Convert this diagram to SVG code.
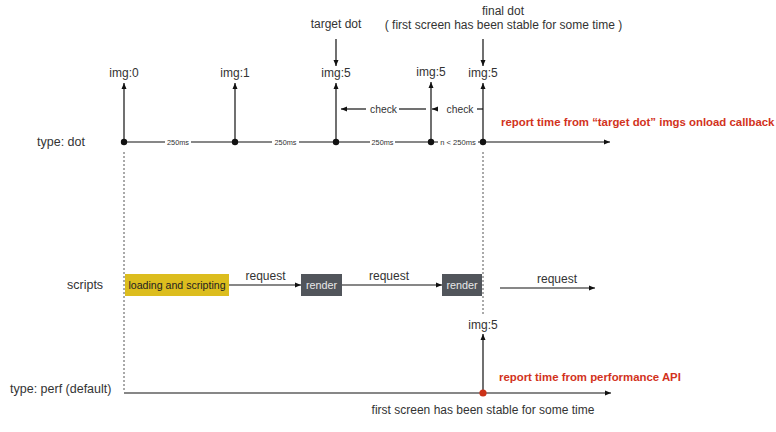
<svg xmlns="http://www.w3.org/2000/svg" width="776" height="432" viewBox="0 0 776 432">
<defs>
<marker id="ah" viewBox="0 0 6 6" refX="6" refY="3" markerWidth="6" markerHeight="6" markerUnits="userSpaceOnUse" orient="auto">
<path d="M0,0.5 L6,3 L0,5.5 Z" fill="#111"/>
</marker>
</defs>
<style>
text{font-family:"Liberation Sans",Arial,Helvetica,sans-serif;fill:#333;}
.l{font-size:12px;}
.c{text-anchor:middle;}
.s{font-size:7.3px;}
.ck{font-size:10.3px;}
.red{font-size:11.4px;font-weight:bold;fill:#d2321c;}
.ln{stroke:#111;stroke-width:1.2;fill:none;}
.ar{stroke:#111;stroke-width:1.2;fill:none;marker-end:url(#ah);}
.dash{stroke:#555;stroke-width:1;stroke-dasharray:2,2;fill:none;}
.dot{fill:#111;}
</style>
<rect width="776" height="432" fill="#fff"/>

<g id="row-labels">
<text class="l" x="37" y="146" style="font-size:12.5px">type: dot</text>
<text class="l" x="67" y="289" style="font-size:12.5px">scripts</text>
<text class="l" x="10" y="393" style="font-size:12.5px">type: perf (default)</text>
</g>

<g id="connectors">
<!-- dot timeline -->
<path class="ln" d="M124,142 H165 M191,142 H272 M299,142 H370 M395,142 H438"/>
<path class="ar" d="M478,142 H610"/>
<!-- vertical img arrows -->
<path class="ar" d="M124,142 V83"/>
<path class="ar" d="M235,142 V83"/>
<path class="ar" d="M336,142 V83"/>
<path class="ar" d="M431,142 V82"/>
<path class="ar" d="M483,142 V83"/>
<!-- annotation arrows -->
<path class="ar" d="M336,39 V66"/>
<path class="ar" d="M483,39 V66"/>
<!-- check arrows -->
<path class="ln" d="M399,109 H426"/>
<path class="ar" d="M366,109 H341"/>
<path class="ln" d="M477,109 H483"/>
<path class="ar" d="M438,109 H432"/>
<!-- dashed guides -->
<path class="dash" d="M124,152 V392"/>
<path class="dash" d="M483,152 V314"/>
<!-- scripts arrows -->
<path class="ar" d="M229,285 H301"/>
<path class="ar" d="M342,285 H442"/>
<path class="ar" d="M500,288 H595"/>
<!-- perf -->
<path class="ar" d="M124,393 H611"/>
<path class="ar" d="M483,393 V334"/>
</g>

<g id="dot-timeline">
<circle class="dot" cx="124" cy="142" r="3.2"/>
<circle class="dot" cx="235" cy="142" r="3.2"/>
<circle class="dot" cx="336" cy="142" r="3.2"/>
<circle class="dot" cx="431" cy="142" r="3.2"/>
<circle class="dot" cx="483" cy="142" r="3.2"/>
<text class="s c" x="178" y="144.5">250ms</text>
<text class="s c" x="285.5" y="144.5">250ms</text>
<text class="s c" x="382.5" y="144.5">250ms</text>
<text class="c" x="458" y="144.5" style="font-size:7.6px">n &lt; 250ms</text>
</g>

<g id="img-labels">
<text class="l c" x="124" y="77">img:0</text>
<text class="l c" x="235" y="77">img:1</text>
<text class="l c" x="336" y="77">img:5</text>
<text class="l c" x="431" y="76">img:5</text>
<text class="l c" x="483" y="77">img:5</text>
</g>

<g id="target-dot">
<text class="l c" x="336" y="28">target dot</text>
</g>

<g id="final-dot">
<text class="l c" x="503" y="15">final dot</text>
<text class="l c" x="503.5" y="29">( first screen has been stable for some time )</text>
</g>

<g id="checks">
<text class="ck c" x="383.5" y="112.5">check</text>
<text class="ck c" x="460" y="112.5">check</text>
</g>

<g id="dot-report">
<text class="red" x="501" y="126">report time from “target dot” imgs onload callback</text>
</g>

<g id="loading">
<rect x="125" y="274" width="104" height="22" fill="#dcbd1e"/>
<text class="c" x="177" y="289" style="font-size:10.6px;fill:#222">loading and scripting</text>
</g>

<g id="render1">
<rect x="301" y="274" width="41" height="22" fill="#51555b"/>
<text class="c" x="321.5" y="289" style="font-size:10.8px;fill:#e8e8e8">render</text>
</g>

<g id="render2">
<rect x="442" y="274" width="40" height="22" fill="#51555b"/>
<text class="c" x="462" y="289" style="font-size:10.8px;fill:#e8e8e8">render</text>
</g>

<g id="requests">
<text class="l c" x="265.5" y="280">request</text>
<text class="l c" x="389" y="280">request</text>
<text class="l c" x="557" y="283">request</text>
</g>

<g id="perf">
<text class="l c" x="483" y="329">img:5</text>
<circle cx="483" cy="393" r="3.6" fill="#cc3218"/>
<text class="red" x="499" y="381">report time from performance API</text>
<text class="l c" x="483" y="414">first screen has been stable for some time</text>
</g>
</svg>
